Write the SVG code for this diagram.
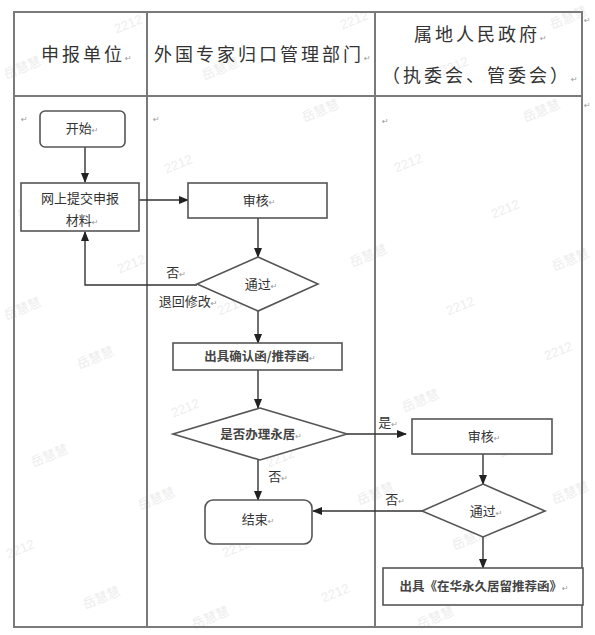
<svg xmlns="http://www.w3.org/2000/svg" width="595" height="635" viewBox="0 0 595 635">
<defs>
<marker id="ah" markerWidth="10" markerHeight="8" refX="9" refY="4" orient="auto" markerUnits="userSpaceOnUse">
<path d="M0,0 L10,4 L0,8 Z" fill="#222"/>
</marker>
<style>
.tbl{fill:none;stroke:#7a7a7a;stroke-width:2}
.shape{fill:#fff;stroke:#555;stroke-width:1.6}
.conn{fill:none;stroke:#333;stroke-width:1.4;marker-end:url(#ah)}
.hd{font-family:"Noto Sans CJK SC","Noto Sans",sans-serif;font-size:18px;fill:#333;letter-spacing:3px}
.tx{font-family:"Noto Sans CJK SC","Noto Sans",sans-serif;font-size:13px;fill:#333;text-anchor:middle}
.bd{font-weight:bold;font-size:12.5px;fill:#444}
.rt{font-family:"DejaVu Sans",sans-serif;font-size:8px;fill:#999;letter-spacing:0;font-weight:normal}
.wm{font-size:13px;fill:#ededed}
.wn{font-family:"Liberation Sans",sans-serif}
.wc{font-family:"Noto Sans CJK SC",sans-serif}
</style>
</defs>
<rect width="595" height="635" fill="#fff"/>

<g id="watermarks" class="wm" text-anchor="middle">
<text class="wn" transform="translate(130,28) rotate(-22)">2212</text>
<text class="wn" transform="translate(356,24) rotate(-22)">2212</text>
<text class="wn" transform="translate(456,70) rotate(-22)">2212</text>
<text class="wn" transform="translate(85,125) rotate(-22)">2212</text>
<text class="wn" transform="translate(180,168) rotate(-22)">2212</text>
<text class="wn" transform="translate(133,268) rotate(-22)">2212</text>
<text class="wn" transform="translate(233,310) rotate(-22)">2212</text>
<text class="wn" transform="translate(410,167) rotate(-22)">2212</text>
<text class="wn" transform="translate(507,213) rotate(-22)">2212</text>
<text class="wn" transform="translate(462,310) rotate(-22)">2212</text>
<text class="wn" transform="translate(560,355) rotate(-22)">2212</text>
<text class="wn" transform="translate(187,412) rotate(-22)">2212</text>
<text class="wn" transform="translate(282,462) rotate(-22)">2212</text>
<text class="wn" transform="translate(515,452) rotate(-22)">2212</text>
<text class="wn" transform="translate(238,552) rotate(-22)">2212</text>
<text class="wn" transform="translate(337,597) rotate(-22)">2212</text>
<text class="wn" transform="translate(562,593) rotate(-22)">2212</text>
<text class="wn" transform="translate(22,553) rotate(-22)">2212</text>
<text class="wc" transform="translate(222,73) rotate(-22)">岳慧慧</text>
<text class="wc" transform="translate(24,72) rotate(-22)">岳慧慧</text>
<text class="wc" transform="translate(322,115) rotate(-22)">岳慧慧</text>
<text class="wc" transform="translate(543,115) rotate(-22)">岳慧慧</text>
<text class="wc" transform="translate(570,22) rotate(-22)">岳慧慧</text>
<text class="wc" transform="translate(37,213) rotate(-22)">岳慧慧</text>
<text class="wc" transform="translate(370,260) rotate(-22)">岳慧慧</text>
<text class="wc" transform="translate(24,313) rotate(-22)">岳慧慧</text>
<text class="wc" transform="translate(572,264) rotate(-22)">岳慧慧</text>
<text class="wc" transform="translate(97,362) rotate(-22)">岳慧慧</text>
<text class="wc" transform="translate(51,460) rotate(-22)">岳慧慧</text>
<text class="wc" transform="translate(158,503) rotate(-22)">岳慧慧</text>
<text class="wc" transform="translate(103,602) rotate(-22)">岳慧慧</text>
<text class="wc" transform="translate(325,360) rotate(-22)">岳慧慧</text>
<text class="wc" transform="translate(422,405) rotate(-22)">岳慧慧</text>
<text class="wc" transform="translate(377,498) rotate(-22)">岳慧慧</text>
<text class="wc" transform="translate(472,543) rotate(-22)">岳慧慧</text>
<text class="wc" transform="translate(572,497) rotate(-22)">岳慧慧</text>
<text class="wc" transform="translate(212,622) rotate(-22)">岳慧慧</text>
<text class="wc" transform="translate(437,622) rotate(-22)">岳慧慧</text>
</g>

<g id="table">
<rect class="tbl" x="14" y="12" width="568" height="615"/>
<line class="tbl" x1="147" y1="12" x2="147" y2="627"/>
<line class="tbl" x1="375" y1="12" x2="375" y2="627"/>
<line class="tbl" x1="14" y1="96" x2="582" y2="96"/>
<text class="hd" x="41" y="61">申报单位<tspan class="rt">↵</tspan></text>
<text class="hd" x="154" y="61">外国专家归口管理部门<tspan class="rt">↵</tspan></text>
<text class="hd" x="414" y="41">属地人民政府<tspan class="rt">↵</tspan></text>
<text class="hd" x="382" y="82">（执委会、管委会）<tspan class="rt">↵</tspan></text>
<text class="rt" x="584" y="23">↵</text>
<text class="rt" x="584" y="108">↵</text>
<text class="rt" x="21" y="122">↵</text>
<text class="rt" x="153" y="122">↵</text>
<text class="rt" x="382" y="124">↵</text>
</g>

<g id="connectors">
<line class="conn" x1="85" y1="147" x2="85" y2="182"/>
<line class="conn" x1="139" y1="200" x2="188" y2="200"/>
<line class="conn" x1="258" y1="218" x2="258" y2="257"/>
<polyline class="conn" points="197,285 85,285 85,232"/>
<line class="conn" x1="258" y1="311" x2="258" y2="343"/>
<line class="conn" x1="258" y1="370" x2="258" y2="408"/>
<line class="conn" x1="347" y1="434" x2="406" y2="434"/>
<line class="conn" x1="258" y1="460" x2="258" y2="500"/>
<line class="conn" x1="483" y1="454" x2="483" y2="484"/>
<line class="conn" x1="422" y1="511" x2="313" y2="511"/>
<line class="conn" x1="483" y1="537" x2="483" y2="568"/>
<text class="tx" x="176" y="277">否<tspan class="rt">↵</tspan></text>
<text class="tx" x="188" y="306">退回修改<tspan class="rt">↵</tspan></text>
<text class="tx" x="388" y="427">是<tspan class="rt">↵</tspan></text>
<text class="tx" x="278" y="481">否<tspan class="rt">↵</tspan></text>
<text class="tx" x="395" y="504">否<tspan class="rt">↵</tspan></text>
</g>

<g id="start">
<rect class="shape" x="40" y="111" width="85" height="36" rx="5"/>
<text class="tx" x="82" y="133">开始<tspan class="rt">↵</tspan></text>
</g>
<g id="submit">
<rect class="shape" x="21" y="183" width="118" height="48"/>
<text class="tx" x="80" y="203">网上提交申报</text>
<text class="tx" x="82" y="225">材料<tspan class="rt">↵</tspan></text>
</g>
<g id="review1">
<rect class="shape" x="188" y="183" width="139" height="35"/>
<text class="tx" x="259" y="205">审核<tspan class="rt">↵</tspan></text>
</g>
<g id="pass1">
<polygon class="shape" points="258,257 318,284 258,311 197,284"/>
<text class="tx" x="261" y="289">通过<tspan class="rt">↵</tspan></text>
</g>
<g id="letter">
<rect class="shape" x="173" y="343" width="169" height="27"/>
<text class="tx bd" x="260" y="361">出具确认函/推荐函<tspan class="rt">↵</tspan></text>
</g>
<g id="permres">
<polygon class="shape" points="260,408 347,434 260,460 173,434"/>
<text class="tx bd" x="261" y="439" font-size="12px">是否办理永居<tspan class="rt">↵</tspan></text>
</g>
<g id="review2">
<rect class="shape" x="412" y="419" width="140" height="35"/>
<text class="tx" x="484" y="441">审核<tspan class="rt">↵</tspan></text>
</g>
<g id="pass2">
<polygon class="shape" points="483,484 545,511 483,537 422,511"/>
<text class="tx" x="486" y="516">通过<tspan class="rt">↵</tspan></text>
</g>
<g id="end">
<rect class="shape" x="205" y="500" width="107" height="44" rx="8"/>
<text class="tx" x="258" y="524">结束<tspan class="rt">↵</tspan></text>
</g>
<g id="recommend">
<rect class="shape" x="383" y="568" width="200" height="37"/>
<text class="tx bd" x="484" y="591" font-size="13px">出具《在华永久居留推荐函》<tspan class="rt">↵</tspan></text>
</g>
</svg>
